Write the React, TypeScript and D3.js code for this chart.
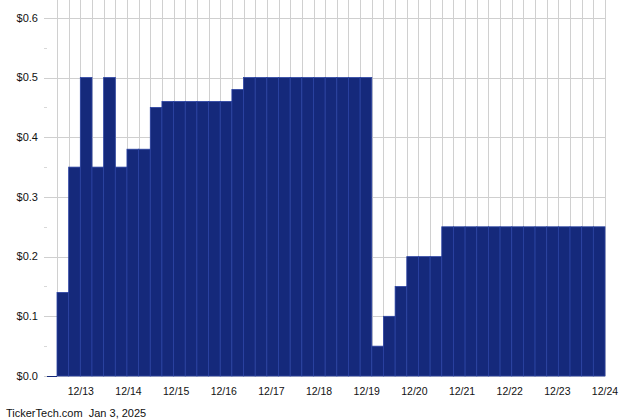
import React from "react";
import * as d3 from "d3";

// Six-hourly dividend-yield style readings, one per bar
const values: number[] = [
  0.14, 0.35, 0.5, 0.35, 0.5, 0.35, 0.38, 0.38, 0.45,
  0.46, 0.46, 0.46, 0.46, 0.46, 0.46,
  0.48,
  0.5, 0.5, 0.5, 0.5, 0.5, 0.5, 0.5, 0.5, 0.5, 0.5, 0.5,
  0.05, 0.1, 0.15,
  0.2, 0.2, 0.2,
  0.25, 0.25, 0.25, 0.25, 0.25, 0.25, 0.25, 0.25, 0.25, 0.25, 0.25, 0.25, 0.25, 0.25,
];

const dayLabels: string[] = [
  "12/13", "12/14", "12/15", "12/16", "12/17", "12/18",
  "12/19", "12/20", "12/21", "12/22", "12/23", "12/24",
];

const yTicks: number[] = [0, 0.1, 0.2, 0.3, 0.4, 0.5, 0.6];
const yMinorTicks: number[] = [0.05, 0.15, 0.25, 0.35, 0.45, 0.55];

const footer = "TickerTech.com  Jan 3, 2025";

const W = 640;
const H = 420;
const left = 57;
const right = 605;
const top = 0;
const bottom = 376;

export default function App() {
  const x = d3
    .scaleBand<number>()
    .domain(values.map((_, i) => i))
    .range([left, right])
    .padding(0);

  // Calendar position of the day labels: axis spans Dec 12 noon to Dec 24 midnight
  const xTime = d3
    .scaleTime()
    .domain([new Date(2024, 11, 12, 12), new Date(2024, 11, 24, 0)])
    .range([left, right]);

  const y = d3.scaleLinear().domain([0, 0.63]).range([bottom, top]);

  const bw = x.bandwidth();
  const boundaries = values.map((_, i) => x(i)!).concat([right]);

  const font = "Arial, 'Liberation Sans', Helvetica, sans-serif";

  return (
    <div style={{ position: "fixed", left: 0, top: 0 }}>
      <svg width={W} height={H} style={{ display: "block", background: "#fff" }}>
        {/* horizontal gridlines with ticks extending left of the axis */}
        {yTicks.map((t) => (
          <line
            key={"h" + t}
            x1={44}
            x2={right}
            y1={Math.round(y(t)) + 0.5}
            y2={Math.round(y(t)) + 0.5}
            stroke="#cfcfcf"
            strokeWidth={1}
          />
        ))}
        {yMinorTicks.map((t) => (
          <line
            key={"m" + t}
            x1={44}
            x2={47}
            y1={Math.round(y(t)) + 0.5}
            y2={Math.round(y(t)) + 0.5}
            stroke="#d8d8d8"
            strokeWidth={1}
          />
        ))}
        {/* vertical gridlines at every bar boundary */}
        {boundaries.map((bx, i) => (
          <line
            key={"v" + i}
            x1={Math.round(bx) + 0.5}
            x2={Math.round(bx) + 0.5}
            y1={top}
            y2={bottom}
            stroke="#d0d0d0"
            strokeWidth={1}
          />
        ))}
        {/* bars */}
        {values.map((v, i) => (
          <rect
            key={"b" + i}
            x={x(i)!}
            y={y(v)}
            width={bw}
            height={bottom - y(v)}
            fill="#15297b"
            stroke="#2b43a3"
            strokeWidth={0.8}
          />
        ))}
        {/* zero tick */}
        <line x1={47} x2={left} y1={bottom + 0.5} y2={bottom + 0.5} stroke="#15297b" strokeWidth={1} />
        {/* y labels */}
        {yTicks.map((t) => (
          <text
            key={"yl" + t}
            x={38}
            y={y(t)}
            dy="0.35em"
            textAnchor="end"
            fontFamily={font}
            fontSize={11}
            fill="#111"
          >
            {"$" + t.toFixed(1)}
          </text>
        ))}
        {/* x labels */}
        {dayLabels.map((lab, i) => (
          <text
            key={"xl" + lab}
            x={xTime(new Date(2024, 11, 13 + i))}
            y={394.5}
            textAnchor="middle"
            fontFamily={font}
            fontSize={10.5}
            fill="#111"
          >
            {lab}
          </text>
        ))}
        <text
          x={6}
          y={417}
          fontFamily={font}
          fontSize={11}
          fill="#111"
          style={{ whiteSpace: "pre" }}
        >
          {footer}
        </text>
      </svg>
    </div>
  );
}
